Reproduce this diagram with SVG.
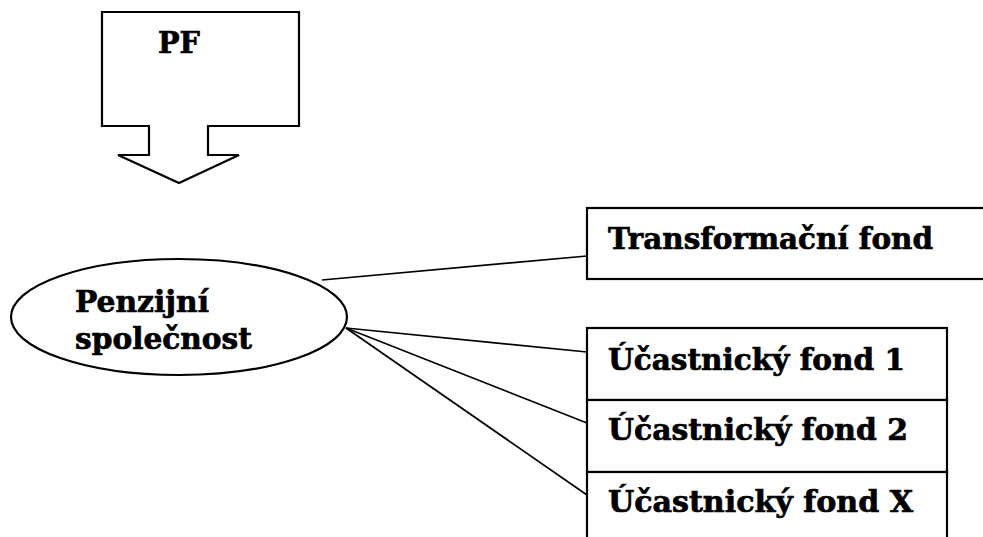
<svg xmlns="http://www.w3.org/2000/svg" width="983" height="537" viewBox="0 0 983 537">
<style>
.s{fill:#fff;stroke:#000;stroke-width:2.2}
.t{font-family:"DejaVu Serif","Liberation Serif",serif;font-weight:bold;font-size:30px;fill:#000;stroke:#000;stroke-width:0.7}
.c line{stroke:#000;stroke-width:1.7}
</style>
<rect width="983" height="537" fill="#fff"/>
<g id="pf">
<path class="s" d="M102,12 H299 V126 H208 V155 H239 L179,183 L118,155 H149 V126 H102 Z"/>
<text class="t" x="158" y="53" textLength="42" lengthAdjust="spacingAndGlyphs">PF</text>
</g>
<g class="c" id="connectors">
<line x1="322" y1="280" x2="587" y2="256"/>
<line x1="346" y1="328" x2="587" y2="352"/>
<line x1="346" y1="328" x2="587" y2="423"/>
<line x1="346" y1="328" x2="587" y2="495"/>
</g>
<g id="ps">
<ellipse class="s" cx="179" cy="317" rx="168" ry="58"/>
<text class="t" x="75" y="312" textLength="134" lengthAdjust="spacingAndGlyphs">Penzijní</text>
<text class="t" x="75" y="349" textLength="177" lengthAdjust="spacingAndGlyphs">společnost</text>
</g>
<g id="tf">
<rect class="s" x="587" y="208" width="420" height="71"/>
<text class="t" x="608" y="249" textLength="325" lengthAdjust="spacingAndGlyphs">Transformační fond</text>
</g>
<g id="uf1">
<rect class="s" x="587" y="328" width="360" height="72"/>
<text class="t" x="608" y="370" textLength="297" lengthAdjust="spacingAndGlyphs">Účastnický fond 1</text>
</g>
<g id="uf2">
<rect class="s" x="587" y="400" width="360" height="72"/>
<text class="t" x="608" y="440" textLength="300" lengthAdjust="spacingAndGlyphs">Účastnický fond 2</text>
</g>
<g id="ufx">
<rect class="s" x="587" y="472" width="360" height="80"/>
<text class="t" x="608" y="512" textLength="305" lengthAdjust="spacingAndGlyphs">Účastnický fond X</text>
</g>
</svg>
